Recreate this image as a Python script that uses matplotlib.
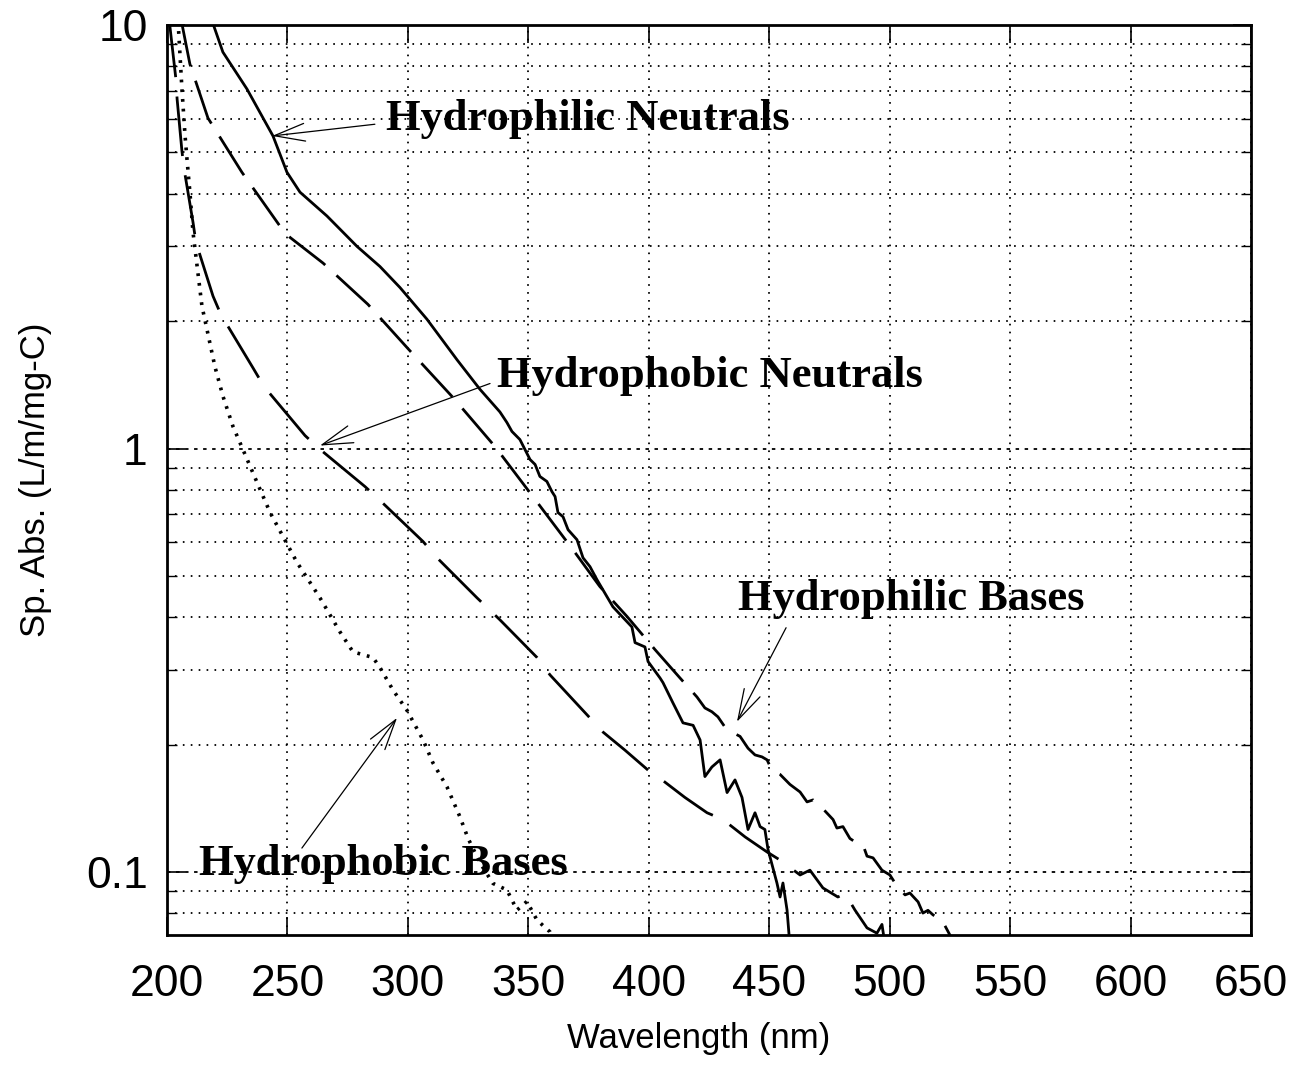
import matplotlib
matplotlib.use("Agg")
import matplotlib.pyplot as plt
from matplotlib.ticker import LogLocator, NullFormatter

plt.rcParams['font.family'] = ['Liberation Sans', 'DejaVu Sans']
plt.rcParams['lines.scale_dashes'] = False

# Specific absorbance spectra (L/m/mg-C) of the four DOM fractions
hn_wl = [218.0, 223.2, 233.2, 244.0, 249.8, 255.2, 266.4, 278.9, 288.4, 296.7,
         307.9, 320.4, 329.9, 338.2, 341.1, 343.2, 346.5, 350.7, 352.8, 354.8,
         357.7, 359.8, 361.1, 362.3, 364.4, 366.5, 370.2, 372.7, 375.6, 378.5,
         385.1, 393.0, 394.3, 398.4, 399.7, 404.7, 405.9, 410.0, 414.2, 418.4,
         421.3, 423.3, 426.2, 429.6, 432.5, 435.8, 438.7, 441.2, 444.1, 446.2,
         448.2, 449.5, 453.2, 454.5, 455.7, 457.4, 458.5]
hn_abs = [10.5, 8.63, 7.06, 5.47, 4.49, 4.03, 3.54, 3.00, 2.69, 2.40,
          2.02, 1.62, 1.38, 1.22, 1.152, 1.097, 1.05, 0.942, 0.917, 0.859,
          0.836, 0.791, 0.770, 0.706, 0.690, 0.643, 0.609, 0.552, 0.526, 0.490,
          0.423, 0.379, 0.348, 0.340, 0.314, 0.287, 0.280, 0.251, 0.225, 0.222,
          0.205, 0.168, 0.177, 0.184, 0.154, 0.165, 0.150, 0.126, 0.138, 0.128,
          0.126, 0.113, 0.0942, 0.0873, 0.0942, 0.0813, 0.068]

hb_wl = [206.0, 209.5, 217.0, 231.1, 246.9, 251.1, 264.8, 283.4, 300.9, 318.7,
         336.2, 352.8, 368.5, 379.7, 391.0, 402.6, 413.0, 420.0, 423.3, 426.2,
         428.7, 431.6, 434.5, 437.9, 441.2, 444.1, 447.0, 449.1, 451.1, 454.5,
         458.6, 462.8, 465.7, 468.2, 472.3, 476.5, 478.1, 480.6, 483.5, 486.4,
         488.9, 490.6, 493.1, 496.8, 500.1, 503.0, 506.4, 508.4, 511.8, 513.8,
         515.9, 518.0, 521.7, 525.0, 526.0]
hb_abs = [10.2, 8.09, 6.03, 4.49, 3.35, 3.15, 2.74, 2.19, 1.70, 1.32,
          1.01, 0.758, 0.577, 0.472, 0.401, 0.335, 0.287, 0.259, 0.244, 0.239,
          0.2325, 0.220, 0.214, 0.209, 0.196, 0.189, 0.187, 0.184, 0.174, 0.170,
          0.161, 0.1545, 0.1464, 0.148, 0.141, 0.133, 0.127, 0.128, 0.120, 0.117,
          0.116, 0.109, 0.108, 0.101, 0.0984, 0.0927, 0.0883, 0.0892, 0.0850, 0.080,
          0.0812, 0.0792, 0.077, 0.071, 0.069]

hon_wl = [200.8, 203.7, 204.2, 206.2, 207.1, 210.8, 212.0, 219.1, 222.4, 235.7,
          240.3, 257.3, 263.1, 282.2, 288.0, 306.3, 312.1, 328.7, 338.2, 353.6,
          359.0, 375.6, 381.0, 390.1, 399.7, 405.5, 415.0, 424.2, 430.8, 440.0,
          449.1, 454.5, 462.8, 466.9, 472.3, 478.5, 481.5, 485.6, 490.6, 494.7,
          496.8, 497.8]
hon_abs = [10.4, 7.45, 6.68, 5.04, 4.57, 3.42, 3.07, 2.29, 2.07, 1.55,
           1.40, 1.073, 1.00, 0.813, 0.758, 0.603, 0.552, 0.444, 0.394, 0.321,
           0.292, 0.231, 0.214, 0.194, 0.174, 0.165, 0.150, 0.138, 0.133, 0.121,
           0.1115, 0.1067, 0.0984, 0.101, 0.0917, 0.0873, 0.089, 0.0813, 0.0738, 0.0717,
           0.0752, 0.069]

hob_wl = [204.6, 206.2, 207.5, 208.3, 209.5, 210.8, 214.5, 216.6, 219.9, 223.2,
          227.4, 231.5, 237.4, 242.8, 248.2, 254.0, 263.5, 271.8, 277.2, 285.5,
          288.4, 293.8, 299.6, 306.3, 310.4, 316.2, 321.6, 325.0, 330.0, 335.3,
          341.1, 345.3, 349.4, 353.6, 359.0, 360.5]
hob_abs = [10.2, 7.06, 5.47, 4.82, 4.03, 3.24, 2.17, 1.91, 1.56, 1.33,
           1.127, 0.995, 0.831, 0.706, 0.619, 0.538, 0.444, 0.369, 0.331, 0.321,
           0.304, 0.269, 0.241, 0.205, 0.181, 0.159, 0.135, 0.120, 0.105, 0.094,
           0.0907, 0.0813, 0.0852, 0.077, 0.0722, 0.069]

x_ticks = [200, 250, 300, 350, 400, 450, 500, 550, 600, 650]
y_ticks = [0.1, 1, 10]
y_tick_labels = ['0.1', '1', '10']

# Labels: (text, text anchor, arrow tail, arrow tip)
labels = [
    ("Hydrophilic Neutrals", (290.9, 5.65), (286.3, 5.83), (243.6, 5.47)),
    ("Hydrophobic Neutrals", (337.0, 1.394), (334.1, 1.424), (263.5, 1.016)),
    ("Hydrophilic Bases", (437.0, 0.416), (457.0, 0.3774), (436.6, 0.2263)),
    ("Hydrophobic Bases", (213.3, 0.0984), (256.0, 0.1139), (295.5, 0.2312)),
]

fig = plt.figure(figsize=(12.98, 10.80), dpi=100)
ax = fig.add_axes([167 / 1298, 145 / 1080, 1084 / 1298, 910 / 1080])

ax.set_yscale('log')
ax.set_xlim(200, 650)
ax.set_ylim(0.071, 10)

ax.plot(hn_wl, hn_abs, color='black', lw=2.0, solid_joinstyle='round')
ax.plot(hb_wl, hb_abs, color='black', lw=2.0, dashes=(33, 11))
ax.plot(hon_wl, hon_abs, color='black', lw=2.0, dashes=(43, 14))
ax.plot(hob_wl, hob_abs, color='black', lw=2.6, dashes=(2, 5))

ax.set_xticks(x_ticks)
ax.set_yticks(y_ticks, labels=y_tick_labels)
ax.yaxis.set_minor_locator(LogLocator(base=10, subs=range(2, 10), numticks=20))
ax.yaxis.set_minor_formatter(NullFormatter())

ax.tick_params(which='both', direction='in', top=True, right=True, color='black')
ax.tick_params(which='major', length=13, width=1.2, labelsize=32)
ax.tick_params(which='minor', length=7, width=1.0)
ax.tick_params(axis='x', which='major', pad=21)
ax.tick_params(axis='y', which='major', pad=14)

ax.grid(True, which='major', axis='x', linestyle=(0, (1.2, 4.5)), linewidth=1.3, color='black')
ax.grid(True, which='major', axis='y', linestyle=(0, (2.5, 4)), linewidth=1.3, color='black')
ax.grid(True, which='minor', axis='y', linestyle=(0, (1.2, 4.5)), linewidth=1.3, color='black')

for side in ax.spines.values():
    side.set_linewidth(2.0)

ax.set_xlabel('Wavelength (nm)', fontsize=25, va='top')
ax.xaxis.set_label_coords(0.49, -0.096)
ax.set_ylabel('Sp. Abs. (L/m/mg-C)', fontsize=25)
ax.yaxis.set_label_coords(-0.106, 0.5)

for text, pos, tail, tip in labels:
    ax.text(pos[0], pos[1], text, family=['Liberation Serif', 'DejaVu Serif'],
            fontweight='bold', fontsize=32, ha='left', va='baseline', zorder=5)
    ax.annotate('', xy=tip, xytext=tail,
                arrowprops=dict(arrowstyle='->,head_length=0.55,head_width=0.16',
                                lw=0.9, color='black', shrinkA=0, shrinkB=0,
                                mutation_scale=40), zorder=5)

fig.savefig('out.png', dpi=100)
